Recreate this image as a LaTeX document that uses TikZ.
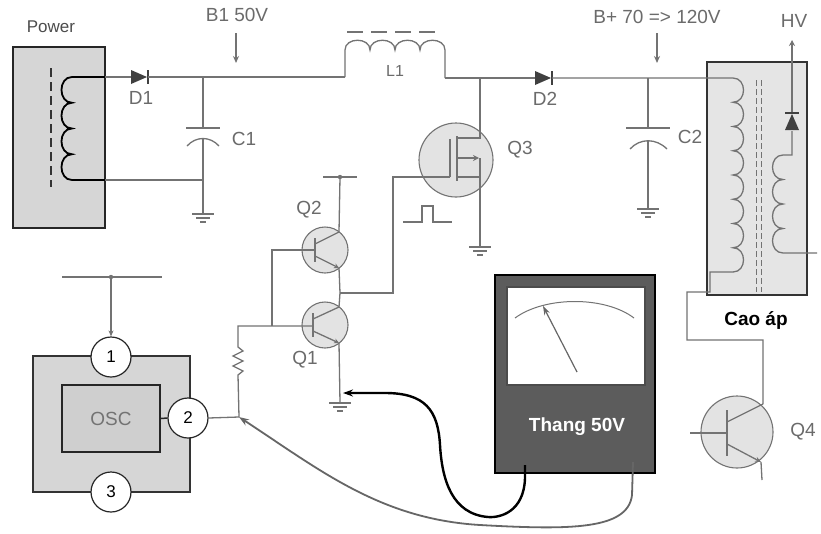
\documentclass[tikz,border=0pt]{standalone}
\usepackage{fontspec}
\setmainfont{Liberation Sans}
\usetikzlibrary{arrows.meta,calc}
\definecolor{wire}{gray}{0.45}
\definecolor{labelc}{gray}{0.42}
\definecolor{panel}{gray}{0.84}
\definecolor{meterbody}{gray}{0.36}
\tikzset{
  gndsym/.pic={\draw[wire,line width=1.1pt] (-11,0)--(11,0) (-7,4)--(7,4) (-3,8)--(3,8);},
  diodesym/.pic={\fill[black!75] (-8,-7)--(-8,7)--(8,0)--cycle;
                 \draw[black!75,line width=1.6pt] (9,-7)--(9,7);}
}
\begin{document}
\begin{tikzpicture}[x=1pt,y=-1pt,
  wireline/.style={draw=wire,line width=1.3pt},
  coilline/.style={draw=black,line width=1.8pt},
  lbl/.style={text=labelc,font=\fontsize{19}{22}\selectfont,inner sep=0pt},
  panelbox/.style={draw=black!85,line width=1.8pt,fill=panel,inner sep=0pt},
  tcircle/.style={circle,draw=wire,line width=1.1pt,fill=gray!22,inner sep=0pt},
  pinnode/.style={circle,draw=black!85,line width=1.2pt,fill=white,minimum size=40pt,
                  inner sep=0pt,font=\fontsize{17}{20}\selectfont},
  tip/.style={-{Stealth[length=7pt,width=6pt]}}
]
% canvas
\fill[white] (0,0) rectangle (821,533);
\useasboundingbox (0,0) rectangle (821,533);

% ---------------- power supply ----------------
\node[panelbox,minimum width=92pt,minimum height=181pt] (power) at (59,137.5) {};
\node[lbl,text=black!70,font=\fontsize{17}{20}\selectfont] (powerlbl) at (51,27) {Power};
\draw[black!80,line width=1.8pt,dash pattern=on 9pt off 5pt] (51,68) -- (51,187);
\coordinate (pTop) at (105,77);
\coordinate (pBot) at (105,180);
\draw[coilline] (pTop) -- (72,77)
  \foreach \k in {0,1,2,3}{ .. controls (58,{77+25.75*\k}) and (58,{77+25.75*(\k+1)}) .. (72,{77+25.75*(\k+1)}) }
  -- (pBot);

% D1 and B1 rail
\pic at (139,77) {diodesym};
\coordinate (d1in) at (131,77);
\coordinate (d1out) at (148,77);
\node[lbl] (d1lbl) at (141,98) {D1};
\coordinate (c1top) at (203,77);
\coordinate (l1in) at (345,77);
\draw[wireline] (pTop) -- (d1in);
\draw[wireline] (d1out) -- (l1in);
\node[lbl] (b1lbl) at (237,15) {B1 50V};
\coordinate (b1tip) at (236,63);
\draw[wire,line width=1.4pt,tip] (236,33) -- (b1tip);

% C1
\coordinate (c1bot) at (203,180);
\coordinate (c1gnd) at (203,214);
\draw[wireline] (c1top) -- (203,128);
\draw[wireline] (186,128) -- (220,128);
\draw[wireline] (187,146) .. controls (196,136) and (210,136) .. (219,146);
\draw[wireline] (203,139) -- (c1gnd);
\draw[wireline] (pBot) -- (c1bot);
\pic at (c1gnd) {gndsym};
\node[lbl] (c1lbl) at (244,139) {C1};

% L1
\coordinate (l1out) at (445,78);
\draw[wireline] (l1in) -- (345,50)
  \foreach \k in {0,1,2,3}{ .. controls ({345+25*\k},37) and ({345+25*(\k+1)},37) .. ({345+25*(\k+1)},50) }
  -- (l1out);
\draw[wire,line width=1.5pt,dash pattern=on 16pt off 8pt] (347,32) -- (440,32);
\node[lbl,font=\fontsize{16}{18}\selectfont] (l1lbl) at (395,71) {L1};

% D2 and B+ rail
\coordinate (d2in) at (535,78);
\coordinate (d2out) at (552,78);
\coordinate (q3d) at (480,78);
\draw[wireline] (l1out) -- (d2in);
\pic at (543,78) {diodesym};
\node[lbl] (d2lbl) at (545,99) {D2};
\node[lbl] (bplbl) at (657,17) {B+ 70 => 120V};
\draw[wire,line width=1.4pt,tip] (657,33) -- (657,63);

% C2
\coordinate (c2top) at (648,78);
\coordinate (c2gnd) at (648,209);
\draw[wireline] (c2top) -- (648,128);
\draw[wireline] (626,128) -- (670,128);
\draw[wireline] (630,149) .. controls (640,138) and (656,138) .. (667,149);
\draw[wireline] (648,141) -- (c2gnd);
\pic at (c2gnd) {gndsym};
\node[lbl] (c2lbl) at (690,137) {C2};

% ---------------- flyback transformer ----------------
\node[panelbox,fill=gray!20,draw=black!80,minimum width=100pt,minimum height=233pt] (trafo) at (757,178.5) {};
\coordinate (primtop) at (733,78);
\draw[wireline] (d2out) -- (primtop)
  \foreach \k in {0,...,7}{ .. controls (747,{78+24.25*\k}) and (747,{78+24.25*(\k+1)}) .. (733,{78+24.25*(\k+1)}) }
  -- (710,272) -- (710,292) -- (687,292) -- (687,340) -- (763,340) -- (763,404);
\draw[wire,line width=1pt,dash pattern=on 6pt off 3pt] (756,80) -- (756,292) (761,80) -- (761,292);
\coordinate (secbot) at (817,253);
\draw[wireline] (secbot) -- (783,253)
  \foreach \k in {0,1,2,3}{ .. controls (769,{253-24.5*\k}) and (769,{253-24.5*(\k+1)}) .. (783,{253-24.5*(\k+1)}) }
  -- (792,155) -- (792,131);
\pic[rotate=90] at (792,122) {diodesym};
\draw[wireline,-{Stealth[length=6pt,width=6pt]}] (792,112) -- (792,40);
\node[lbl] (hvlbl) at (794,21) {HV};
\node[font=\bfseries\fontsize{19}{22}\selectfont,inner sep=0pt] (caoap) at (756,320) {Cao áp};

% ---------------- Q3 switching MOSFET ----------------
\node[tcircle,minimum size=74pt] (q3) at (456,160) {};
\node[lbl] (q3lbl) at (520,150) {Q3};
\draw[wire,line width=1.6pt] (450,139) -- (450,177);
\draw[wire,line width=1.6pt] (457,136) -- (457,181);
\draw[wireline] (457,138) -- (480,138) -- (q3d);
\draw[wireline,-{Stealth[length=6pt,width=6pt]}] (457,158) -- (479,158);
\coordinate (q3gnd) at (480,247);
\draw[wireline] (457,177) -- (480,177);
\draw[wireline] (480,158) -- (q3gnd);
\pic at (q3gnd) {gndsym};
\coordinate (q3g) at (450,177);
\coordinate (drvnode) at (340,293);
\draw[wireline] (q3g) -- (393,177) -- (393,293) -- (drvnode);
\draw[wireline] (403,222) -- (422,222) -- (422,206) -- (433,206) -- (433,222) -- (452,222);

% ---------------- Q2 / Q1 driver pair ----------------
\node[tcircle,minimum size=46pt] (q2) at (325,250) {};
\node[lbl] (q2lbl) at (309,210) {Q2};
\coordinate (railq2) at (340,177);
\draw[wireline] (323,177) -- (357,177);
\fill[wire] (railq2) circle (2.2pt);
\draw[wire,line width=2pt] (315,238) -- (315,262);
\draw[wireline] (315,244) -- (339,232) -- (railq2);
\draw[wireline,-{Stealth[length=5pt,width=5pt]}] (315,256) -- (339,268);
\draw[wireline] (339,268) -- (drvnode);

\node[tcircle,minimum size=46pt] (q1) at (325,325) {};
\node[lbl] (q1lbl) at (305,360) {Q1};
\draw[wire,line width=2pt] (313,313) -- (313,337);
\draw[wireline] (313,319) -- (339,307) -- (drvnode);
\draw[wireline,-{Stealth[length=5pt,width=5pt]}] (313,331) -- (339,343);
\coordinate (q1gnd) at (340,403);
\draw[wireline] (339,343) -- (q1gnd);
\pic at (q1gnd) {gndsym};

% base network and resistor
\coordinate (jct) at (239,417);
\draw[wireline] (315,250) -- (272,250) -- (272,326);
\draw[wireline] (313,326) -- (238,326) -- (238,347)
  -- (243,351) -- (233,356) -- (243,361) -- (233,366) -- (243,371) -- (238,375) -- (jct);

% ---------------- oscillator IC ----------------
\node[panelbox,draw=black!80,minimum width=157pt,minimum height=136pt] (osco) at (111.5,424) {};
\node[panelbox,fill=gray!38,draw=black!85,line width=2pt,minimum width=98pt,minimum height=67pt,
      font=\fontsize{19}{22}\selectfont,text=black!55] (osc) at (111,418.5) {OSC};
\node[pinnode] (pin1) at (111,357) {1};
\node[pinnode] (pin2) at (188,418) {2};
\node[pinnode] (pin3) at (111,492) {3};
\draw[black!85,line width=1.5pt] (osc.east) -- (pin2.west);
\draw[wireline] (pin2.east) -- (jct);
\coordinate (railosc) at (111,277);
\draw[wireline] (62,277) -- (162,277);
\fill[wire] (railosc) circle (2.2pt);
\draw[wireline,-{Stealth[length=6pt,width=5pt]}] (railosc) -- (pin1.north);

% ---------------- meter ----------------
\node[draw=black,line width=1.5pt,fill=meterbody,minimum width=160pt,minimum height=198pt,inner sep=0pt] (meter) at (575,374) {};
\node[draw=black!70,line width=1.2pt,fill=white,minimum width=138pt,minimum height=98pt,inner sep=0pt] (win) at (576,336) {};
\draw[wire,line width=1pt] (515,318) .. controls (545,296) and (605,296) .. (634,318);
\draw[black!60,line width=1.2pt,-{Stealth[length=9pt,width=6pt]}] (577,372) -- (543,306);
\node[text=white,font=\bfseries\fontsize{19}{22}\selectfont,inner sep=0pt] (range) at (577,427) {Thang 50V};

% test leads
\coordinate (blackend) at (525,465);
\coordinate (grayend) at (633,462);
\draw[black,line width=2.4pt,-{Stealth[length=10pt,width=7pt]}] (blackend) -- (525,478)
  .. controls (524,512) and (500,518) .. (488,517)
  .. controls (452,514) and (442,480) .. (440,445)
  .. controls (438,410) and (425,393) .. (385,393) -- (343,393);
\draw[black!60,line width=1.8pt,-{Stealth[length=10pt,width=7pt]}] (grayend) -- (632,495)
  .. controls (628,530) and (570,530) .. (480,525)
  .. controls (380,519) and (320,470) .. (jct);

% ---------------- Q4 horizontal output ----------------
\node[tcircle,minimum size=72pt] (q4) at (737,432) {};
\node[lbl] (q4lbl) at (803,432) {Q4};
\draw[wire,line width=2pt] (727,410) -- (727,456);
\draw[wireline] (690,433) -- (727,433);
\draw[wireline] (727,422) -- (763,404);
\draw[wireline,-{Stealth[length=6pt,width=5pt]}] (727,444) -- (761,462);
\draw[wireline] (761,462) -- (762,480);
\end{tikzpicture}
\end{document}
